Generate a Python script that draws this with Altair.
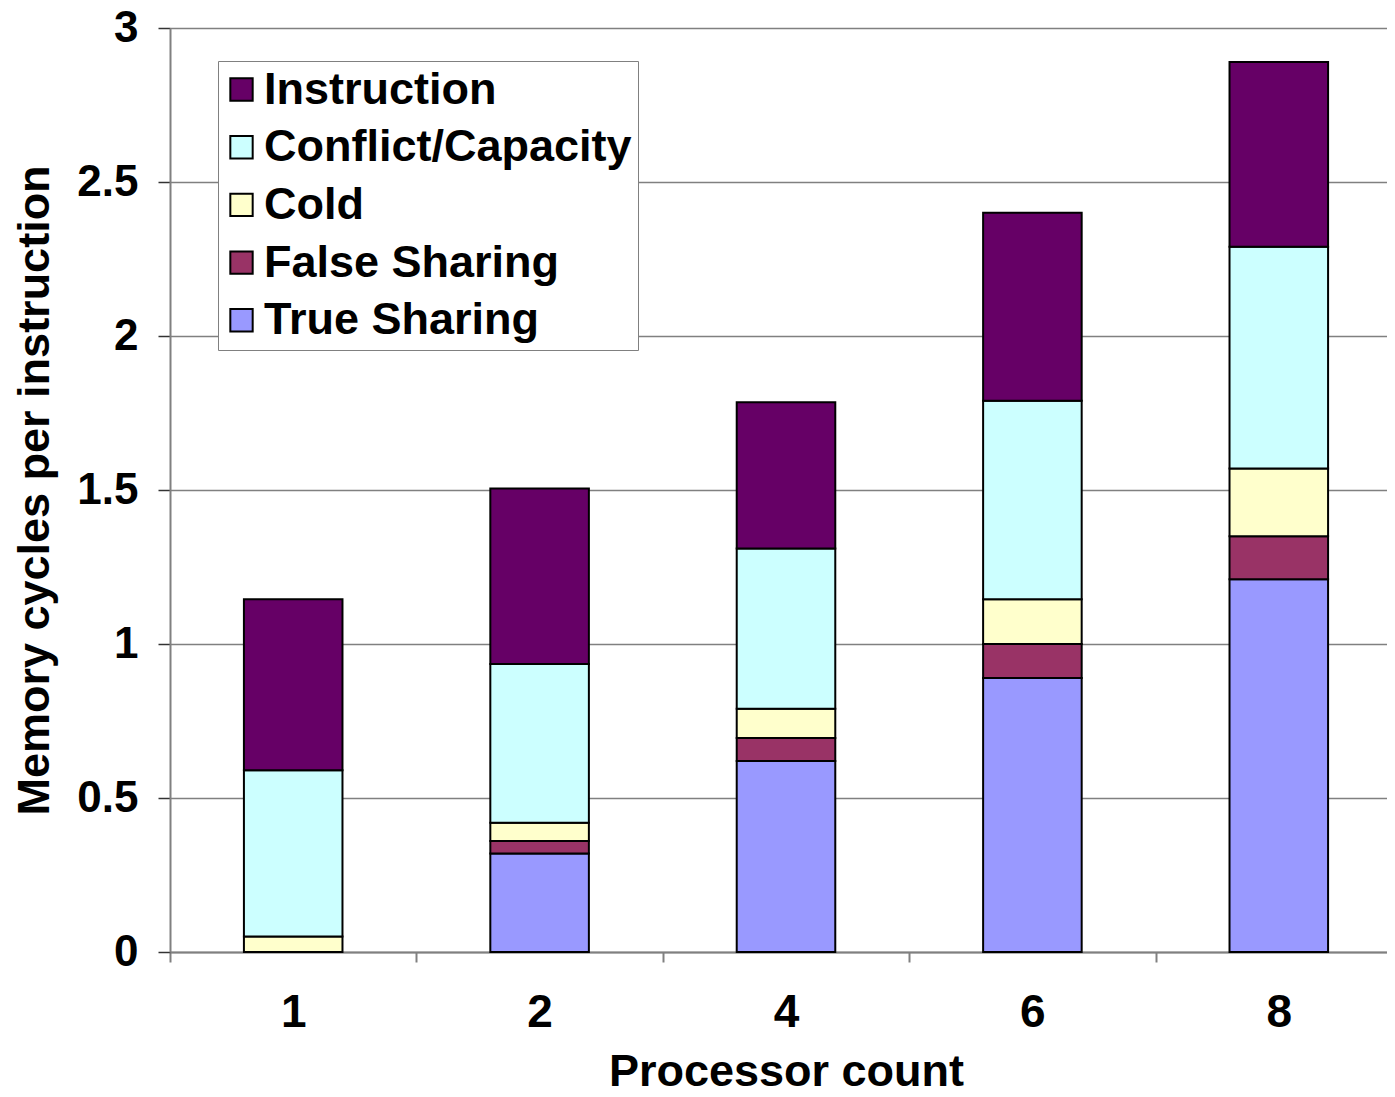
import altair as alt
import pandas as pd

processors = ["1", "2", "4", "6", "8"]
categories = ["Instruction", "Conflict/Capacity", "Cold", "False Sharing", "True Sharing"]
colors = ["#660066", "#CCFFFF", "#FFFFCC", "#993366", "#9999FF"]

true_sharing = [0.0, 0.32, 0.62, 0.89, 1.21]
false_sharing = [0.0, 0.04, 0.075, 0.11, 0.14]
cold = [0.05, 0.06, 0.095, 0.145, 0.22]
conflict = [0.54, 0.515, 0.52, 0.645, 0.72]
instruction = [0.555, 0.57, 0.475, 0.61, 0.60]

series = {
    "True Sharing": true_sharing,
    "False Sharing": false_sharing,
    "Cold": cold,
    "Conflict/Capacity": conflict,
    "Instruction": instruction,
}
stack_rank = {"True Sharing": 0, "False Sharing": 1, "Cold": 2, "Conflict/Capacity": 3, "Instruction": 4}

rows = []
for cat, vals in series.items():
    for p, v in zip(processors, vals):
        rows.append({"proc": p, "category": cat, "value": v, "rank": stack_rank[cat]})
df = pd.DataFrame(rows)

FONT = "Liberation Sans"

chart = alt.Chart(df).mark_bar(stroke="black", strokeWidth=2, width=alt.RelativeBandSize(0.4)).encode(
    x=alt.X("proc:N", sort=processors, title="Processor count",
            scale=alt.Scale(paddingInner=0, paddingOuter=0, range=[0, 1232]),
            axis=alt.Axis(labelAngle=0, labelFontSize=46, labelFont=FONT, labelFontWeight="bold",
                          labelColor="black", labelPadding=28,
                          titleFontSize=45, titleFont=FONT, titleFontWeight="bold", titleColor="black",
                          titlePadding=14,
                          domainColor="#808080", domainWidth=2,
                          tickColor="#808080", tickWidth=2, tickSize=10, tickBand="extent")),
    y=alt.Y("value:Q", stack="zero", title="Memory cycles per instruction",
            scale=alt.Scale(domain=[0, 3], nice=False),
            axis=alt.Axis(values=[0, 0.5, 1, 1.5, 2, 2.5, 3], format="~g",
                          labelFontSize=44, labelFont=FONT, labelFontWeight="bold", labelColor="black",
                          labelPadding=20,
                          titleFontSize=45, titleFont=FONT, titleFontWeight="bold", titleColor="black",
                          titlePadding=19,
                          domainColor="#808080", domainWidth=2,
                          tickColor="#333333", tickWidth=1.5, tickSize=12,
                          grid=True, gridColor="#808080", gridWidth=1.5)),
    color=alt.Color("category:N", sort=categories,
                    scale=alt.Scale(domain=categories, range=colors),
                    legend=alt.Legend(title=None, orient="none", legendX=48, legendY=33,
                                      labelFontSize=45, labelFont=FONT, labelFontWeight="bold",
                                      labelColor="black", symbolType="square", symbolSize=500,
                                      symbolStrokeColor="black", symbolStrokeWidth=2,
                                      symbolOpacity=1, symbolOffset=-5, labelOffset=0,
                                      rowPadding=11.7,
                                      padding=6, strokeColor="#808080", fillColor="white",
                                      labelLimit=500)),
    order=alt.Order("rank:Q", sort="ascending"),
).properties(
    width=1217, height=924,
    autosize=alt.AutoSizeParams(type="none"),
    padding={"left": 162, "top": 20, "right": 0, "bottom": 137},
).configure_view(stroke=None)

chart.save("out.html", embed_options={"renderer": "svg", "actions": False})
